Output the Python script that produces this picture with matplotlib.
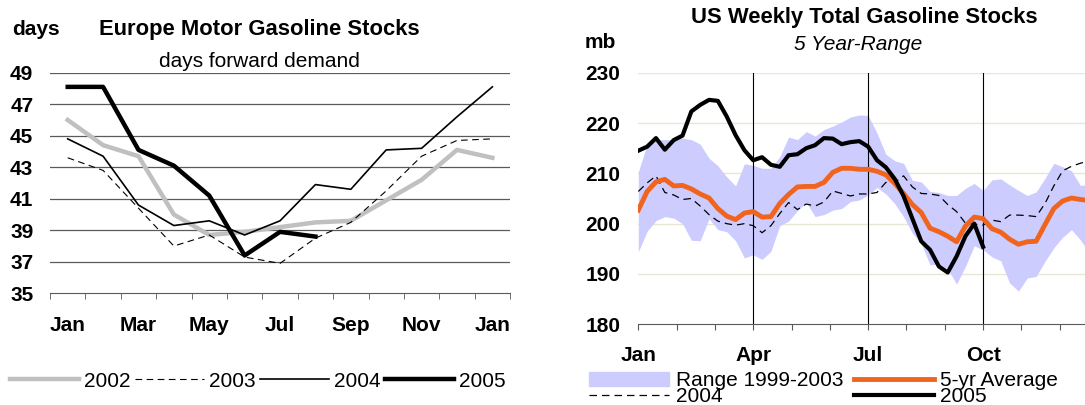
import matplotlib
matplotlib.use('Agg')
import matplotlib.pyplot as plt
from matplotlib.lines import Line2D
from matplotlib.patches import Patch

plt.rcParams['font.family'] = 'Liberation Sans'
plt.rcParams['font.size'] = 15

# Europe: days forward demand, monthly (Jan .. Jan of next year)
eu_months = ['Jan', '', 'Mar', '', 'May', '', 'Jul', '', 'Sep', '', 'Nov', '', 'Jan']
eu_2002 = [46.0, 44.4, 43.7, 40.0, 38.7, 38.9, 39.2, 39.5, 39.6, 40.9, 42.2, 44.1, 43.6]
eu_2003 = [43.6, 42.8, 40.4, 38.0, 38.7, 37.3, 36.9, 38.5, 39.5, 41.5, 43.7, 44.7, 44.8]
eu_2004 = [44.8, 43.7, 40.6, 39.3, 39.6, 38.7, 39.6, 41.9, 41.6, 44.1, 44.2, 46.2, 48.1]
eu_2005 = [48.1, 48.1, 44.1, 43.1, 41.2, 37.4, 38.9, 38.6]

# US: weekly total gasoline stocks, million barrels
us_range_hi = [210.3, 215.8, 216.7, 216.7, 216.7, 217.0, 216.7, 215.8, 213.0, 211.5,
               209.3, 207.5, 211.9, 211.6, 211.0, 211.0, 213.3, 217.2, 216.7, 218.3,
               217.4, 218.7, 219.4, 220.2, 221.2, 221.6, 221.5, 218.0, 213.8, 212.5,
               212.0, 208.6, 208.3, 206.4, 206.2, 205.6, 205.6, 207.0, 208.0, 206.6,
               208.7, 208.9, 207.7, 206.6, 205.6, 206.3, 209.0, 212.0, 211.3, 210.5,
               207.6, 207.7]
us_range_lo = [194.4, 198.5, 200.6, 201.4, 201.1, 200.0, 196.7, 196.6, 201.0, 198.8,
               198.4, 196.6, 193.2, 193.8, 192.9, 194.5, 199.6, 200.5, 202.6, 204.2,
               201.4, 201.8, 202.7, 203.0, 204.4, 204.7, 205.7, 207.2, 205.9, 204.0,
               201.4, 198.1, 196.0, 191.8, 192.0, 191.0, 188.0, 191.5, 195.6, 194.8,
               193.4, 192.6, 188.2, 186.6, 189.2, 189.5, 192.5, 195.2, 197.3, 198.8,
               196.8, 194.2]
us_avg = [202.7, 206.4, 208.3, 208.8, 207.5, 207.6, 206.9, 205.9, 205.1, 203.0,
          201.5, 200.8, 202.1, 202.4, 201.3, 201.4, 204.0, 205.8, 207.3, 207.4,
          207.4, 208.2, 210.2, 211.0, 211.0, 210.8, 210.8, 210.4, 209.7, 208.0,
          206.0, 203.8, 202.2, 199.1, 198.4, 197.5, 196.4, 199.5, 201.3, 201.0,
          199.0, 198.3, 196.9, 195.9, 196.4, 196.5, 199.8, 203.0, 204.5, 205.1,
          204.8, 204.6]
us_2004 = [206.4, 208.1, 209.5, 206.2, 205.7, 204.8, 205.0, 203.5, 201.8, 200.5,
           200.0, 199.7, 200.0, 199.6, 198.2, 199.6, 202.0, 204.2, 202.8, 203.9,
           203.5, 204.3, 206.5, 206.0, 205.5, 205.9, 205.9, 206.2, 208.2, 208.2,
           209.5, 207.3, 206.0, 205.9, 205.6, 203.8, 202.4, 200.1, 199.9, 199.7,
           200.7, 200.4, 201.7, 201.7, 201.6, 201.4, 204.0, 207.5, 210.5, 211.4,
           212.0, 212.5]
us_2005 = [214.5, 215.3, 217.0, 214.7, 216.6, 217.5, 222.3, 223.6, 224.6, 224.4,
           221.3, 217.6, 214.6, 212.6, 213.2, 211.7, 211.3, 213.6, 213.8, 215.0,
           215.6, 217.0, 216.9, 215.8, 216.2, 216.4, 215.3, 212.6, 211.2, 208.9,
           205.5, 201.0, 196.5, 194.8, 191.5, 190.3, 193.5, 197.5, 200.0, 195.4]
us_months = ['Jan', '', '', 'Apr', '', '', 'Jul', '', '', 'Oct', '', '']

fig = plt.figure(figsize=(10.85, 4.05), dpi=100)

# ---------------- Europe ----------------
ax1 = fig.add_axes([0.0461, 0.2758, 0.424, 0.5447])
x = range(len(eu_months))
for v in range(37, 50, 2):
    ax1.axhline(v, color='#5a5a5a', lw=0.9, zorder=0)
ax1.plot(x, eu_2002, color='#c0c0c0', lw=3.2)
ax1.plot(x, eu_2003, color='black', lw=0.8, ls=(0, (6, 4)))
ax1.plot(x, eu_2004, color='black', lw=1.2)
ax1.plot(range(len(eu_2005)), eu_2005, color='black', lw=3.2)
ax1.set_xlim(-0.5, len(eu_months) - 0.5)
ax1.set_ylim(35, 49)
ax1.set_yticks(range(35, 50, 2))
ax1.set_xticks([i - 0.5 for i in range(len(eu_months) + 1)], minor=True)
ax1.set_xticks(list(x))
ax1.set_xticklabels(eu_months, fontweight='bold')
ax1.tick_params(axis='x', which='major', length=0, pad=16)
ax1.tick_params(axis='x', which='minor', length=4.5, color='#5a5a5a', direction='out')
ax1.tick_params(axis='y', length=0, pad=12)
for lab in ax1.get_yticklabels():
    lab.set_fontweight('bold')
for s in ['top', 'right', 'left']:
    ax1.spines[s].set_visible(False)
ax1.spines['bottom'].set_color('#5a5a5a')
fig.text(0.011, 0.926, 'days', fontweight='bold', ha='left', va='center')
fig.text(0.2387, 0.926, 'Europe Motor Gasoline Stocks', fontweight='bold',
         fontsize=15.8, ha='center', va='center')
fig.text(0.2387, 0.847, 'days forward demand', ha='center', va='center')

h1 = [Line2D([], [], color='#c0c0c0', lw=3.2),
      Line2D([], [], color='black', lw=0.8, ls=(0, (6, 4))),
      Line2D([], [], color='black', lw=1.2),
      Line2D([], [], color='black', lw=3.2)]
fig.legend(h1, ['2002', '2003', '2004', '2005'], loc='center left',
           bbox_to_anchor=(0.0092, 0.059), ncol=4, frameon=False,
           handlelength=3.3, handletextpad=0.25, columnspacing=0.22,
           borderpad=0, borderaxespad=0)

# ---------------- US ----------------
ax2 = fig.add_axes([0.5883, 0.1993, 0.4237, 0.6212])
w = range(len(us_avg))
for v in range(190, 231, 10):
    ax2.axhline(v, color='#e6e6d2', lw=1, zorder=0)
ax2.fill_between(w, us_range_lo, us_range_hi, color='#ccccff', lw=0, zorder=1)
ax2.plot(w, us_2004, color='black', lw=0.9, ls=(0, (6, 4)), zorder=3)
ax2.plot(w, us_avg, color='#f0641e', lw=3.5, zorder=4)
ax2.plot(range(len(us_2005)), us_2005, color='black', lw=3.0, zorder=5)
month_pos = [k * 52 / 12 for k in range(12)]
for k in (3, 6, 9):
    ax2.axvline(month_pos[k], color='black', lw=0.8, zorder=2)
ax2.set_xlim(0, 52)
ax2.set_ylim(180, 230)
ax2.set_yticks(range(180, 231, 10))
ax2.set_xticks(month_pos)
ax2.set_xticklabels(us_months, fontweight='bold')
ax2.tick_params(axis='x', length=4.5, color='#5a5a5a', pad=11)
ax2.tick_params(axis='y', length=0, pad=13)
for lab in ax2.get_yticklabels():
    lab.set_fontweight('bold')
for s in ['top', 'right', 'left']:
    ax2.spines[s].set_visible(False)
ax2.spines['bottom'].set_color('#5a5a5a')
fig.text(0.539, 0.894, 'mb', fontweight='bold', ha='left', va='center')
fig.text(0.7968, 0.9556, 'US Weekly Total Gasoline Stocks', fontweight='bold',
         fontsize=15.8, ha='center', va='center')
fig.text(0.7908, 0.889, '5 Year-Range', style='italic', ha='center', va='center')

h2 = [Patch(color='#ccccff'),
      Line2D([], [], color='black', lw=0.9, ls=(0, (6, 4))),
      Line2D([], [], color='#f0641e', lw=3.5),
      Line2D([], [], color='black', lw=3.0)]
fig.legend(h2, ['Range 1999-2003', '2004', '5-yr Average', '2005'],
           loc='center left', bbox_to_anchor=(0.543, 0.04), ncol=2, frameon=False,
           handlelength=3.85, handleheight=0.6, handletextpad=0.3,
           columnspacing=0.5, labelspacing=-0.15, borderpad=0, borderaxespad=0)

fig.savefig('out.png', dpi=100)
